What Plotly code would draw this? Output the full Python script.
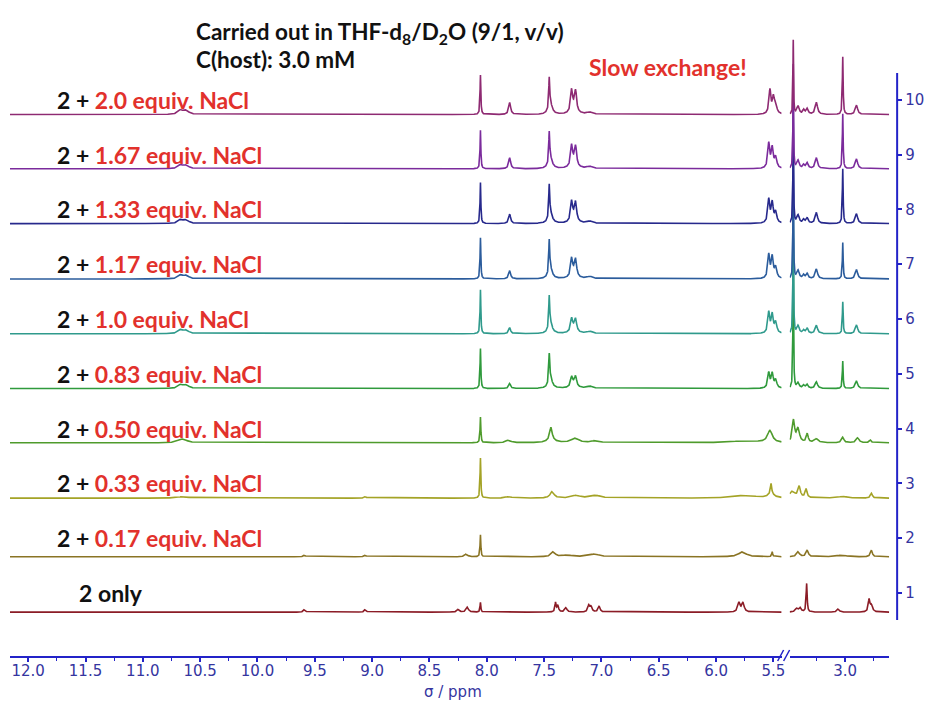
import numpy as np
import plotly.graph_objects as go

# ---------------- data ----------------
# stack index (right axis) of each spectrum, bottom -> top
stack_ticks = [1, 2, 3, 4, 5, 6, 7, 8, 9, 10]
equiv_labels = ["", "0.17", "0.33", "0.50", "0.83", "1.0", "1.17", "1.33", "1.67", "2.0"]
baselines = [0.65, 1.66, 2.73, 3.74, 4.73, 5.73, 6.73, 7.74, 8.74, 9.73]
colors = ["#8b1c26", "#8a7424", "#a4a326", "#4f9b2c", "#2f9a3c",
          "#2f9a8c", "#2b5c9c", "#27298c", "#7b2b9c", "#8e2a72"]

# peaks: (ppm, height in stack units, half width in ppm)
peaks_left = [
    [(9.59, 0.05, 0.01), (9.06, 0.05, 0.01), (8.25, 0.05, 0.012), (8.17, 0.09, 0.012),
     (8.055, 0.18, 0.004), (7.40, 0.17, 0.006), (7.38, 0.12, 0.008), (7.31, 0.08, 0.012),
     (7.11, 0.12, 0.01), (7.09, 0.09, 0.01), (7.02, 0.11, 0.01),
     (5.80, 0.17, 0.012), (5.765, 0.17, 0.012)],
    [(9.59, 0.03, 0.01), (9.06, 0.03, 0.01), (8.18, 0.05, 0.015), (8.055, 0.40, 0.004),
     (7.42, 0.09, 0.02), (7.30, 0.03, 0.05), (7.06, 0.05, 0.05),
     (5.77, 0.09, 0.04), (5.51, 0.09, 0.005)],
    [(10.65, 0.03, 0.05), (9.06, 0.03, 0.01), (8.055, 0.73, 0.004), (7.81, 0.03, 0.03),
     (7.43, 0.12, 0.02), (7.22, 0.05, 0.04), (7.05, 0.05, 0.05), (5.75, 0.05, 0.12),
     (5.52, 0.18, 0.006), (5.52, 0.08, 0.03)],
    [(10.65, 0.07, 0.04), (8.055, 0.47, 0.004), (7.81, 0.05, 0.025), (7.44, 0.22, 0.012),
     (7.44, 0.06, 0.04), (7.23, 0.08, 0.04), (7.05, 0.04, 0.04), (5.75, 0.04, 0.12),
     (5.53, 0.22, 0.025)],
    [(10.67, 0.07, 0.025), (10.62, 0.06, 0.025), (8.055, 0.73, 0.004), (7.80, 0.09, 0.01),
     (7.455, 0.50, 0.005), (7.445, 0.18, 0.02), (7.26, 0.16, 0.01), (7.225, 0.16, 0.01),
     (7.24, 0.08, 0.03), (7.10, 0.04, 0.03),
     (5.54, 0.28, 0.01), (5.51, 0.26, 0.01), (5.48, 0.15, 0.012)],
    [(10.67, 0.07, 0.025), (10.62, 0.06, 0.025), (8.055, 0.80, 0.004), (7.80, 0.11, 0.01),
     (7.455, 0.56, 0.005), (7.445, 0.18, 0.02), (7.26, 0.22, 0.01), (7.225, 0.20, 0.01),
     (7.24, 0.09, 0.03), (7.10, 0.04, 0.03),
     (5.54, 0.38, 0.01), (5.51, 0.33, 0.01), (5.48, 0.20, 0.012)],
    [(10.67, 0.07, 0.025), (10.62, 0.06, 0.025), (8.055, 0.75, 0.004), (7.80, 0.15, 0.01),
     (7.455, 0.58, 0.005), (7.445, 0.18, 0.02), (7.26, 0.31, 0.01), (7.225, 0.28, 0.01),
     (7.24, 0.10, 0.03), (7.10, 0.04, 0.03),
     (5.54, 0.43, 0.01), (5.51, 0.38, 0.01), (5.48, 0.20, 0.012)],
    [(10.67, 0.07, 0.025), (10.62, 0.06, 0.025), (8.055, 0.75, 0.004), (7.80, 0.17, 0.01),
     (7.455, 0.58, 0.005), (7.445, 0.18, 0.02), (7.26, 0.34, 0.01), (7.225, 0.31, 0.01),
     (7.24, 0.10, 0.03), (7.10, 0.04, 0.03),
     (5.54, 0.43, 0.01), (5.51, 0.36, 0.01), (5.48, 0.20, 0.012)],
    [(10.67, 0.07, 0.025), (10.62, 0.06, 0.025), (8.055, 0.70, 0.004), (7.80, 0.20, 0.01),
     (7.455, 0.54, 0.005), (7.445, 0.18, 0.02), (7.26, 0.36, 0.01), (7.225, 0.33, 0.01),
     (7.24, 0.10, 0.03), (7.10, 0.04, 0.03),
     (5.54, 0.45, 0.01), (5.51, 0.36, 0.01), (5.48, 0.20, 0.012)],
    [(10.67, 0.08, 0.025), (10.62, 0.07, 0.025), (8.055, 0.72, 0.004), (7.80, 0.22, 0.01),
     (7.455, 0.54, 0.005), (7.445, 0.18, 0.02), (7.26, 0.38, 0.01), (7.225, 0.35, 0.01),
     (7.24, 0.10, 0.03), (7.10, 0.04, 0.03),
     (5.53, 0.44, 0.01), (5.50, 0.28, 0.01), (5.48, 0.18, 0.012)],
]
peaks_right = [
    [(3.42, 0.07, 0.015), (3.39, 0.07, 0.01), (3.335, 0.52, 0.005), (3.06, 0.06, 0.012),
     (2.79, 0.22, 0.008), (2.77, 0.12, 0.012)],
    [(3.41, 0.09, 0.015), (3.33, 0.12, 0.012), (3.03, 0.03, 0.05), (2.77, 0.12, 0.01)],
    [(3.46, 0.12, 0.03), (3.40, 0.20, 0.012), (3.34, 0.16, 0.01), (3.02, 0.03, 0.05),
     (2.77, 0.09, 0.01)],
    [(3.45, 0.40, 0.012), (3.41, 0.25, 0.015), (3.33, 0.16, 0.01), (3.25, 0.07, 0.02),
     (3.02, 0.10, 0.012), (2.89, 0.09, 0.015), (2.78, 0.05, 0.01)],
    [(3.452, 2.74, 0.003), (3.41, 0.10, 0.012), (3.36, 0.06, 0.01), (3.33, 0.07, 0.01),
     (3.25, 0.12, 0.012), (3.02, 0.50, 0.004), (2.90, 0.14, 0.012)],
    [(3.452, 2.55, 0.003), (3.41, 0.14, 0.012), (3.36, 0.06, 0.01), (3.33, 0.09, 0.01),
     (3.25, 0.15, 0.012), (3.02, 0.58, 0.004), (2.90, 0.16, 0.012)],
    [(3.452, 2.37, 0.003), (3.41, 0.15, 0.012), (3.36, 0.07, 0.01), (3.33, 0.09, 0.01),
     (3.25, 0.18, 0.012), (3.02, 0.66, 0.004), (2.90, 0.17, 0.012)],
    [(3.452, 2.20, 0.003), (3.41, 0.15, 0.012), (3.36, 0.07, 0.01), (3.33, 0.10, 0.01),
     (3.25, 0.20, 0.012), (3.02, 1.00, 0.004), (2.90, 0.18, 0.012)],
    [(3.452, 1.90, 0.003), (3.41, 0.15, 0.012), (3.36, 0.07, 0.01), (3.33, 0.10, 0.01),
     (3.25, 0.20, 0.012), (3.02, 1.00, 0.004), (2.90, 0.18, 0.012)],
    [(3.452, 1.35, 0.003), (3.41, 0.15, 0.012), (3.36, 0.08, 0.01), (3.33, 0.10, 0.01),
     (3.25, 0.22, 0.012), (3.02, 1.05, 0.004), (2.90, 0.17, 0.012)],
]

# axis ranges (ppm), broken axis
left_range = [12.159, 5.428]
right_range = [3.484, 2.615]

# ---------------- build figure ----------------
W, H = 932, 703
AX = "#2323c8"
TXT = "#35359f"
RED = "#e2312c"


def lorentz_sum(x, peaks):
    y = np.zeros_like(x)
    for p, h, w in peaks:
        y += h * w * w / ((x - p) ** 2 + w * w)
    return y


xl = np.arange(left_range[1], left_range[0], 0.001)
xr = np.arange(right_range[1], right_range[0], 0.001)

fig = go.Figure()
for i in range(len(stack_ticks)):
    fig.add_trace(go.Scatter(x=xl, y=baselines[i] + lorentz_sum(xl, peaks_left[i]),
                             mode="lines", line=dict(color=colors[i], width=1.6),
                             xaxis="x", yaxis="y", showlegend=False, hoverinfo="skip"))
    fig.add_trace(go.Scatter(x=xr, y=baselines[i] + lorentz_sum(xr, peaks_right[i]),
                             mode="lines", line=dict(color=colors[i], width=1.6),
                             xaxis="x2", yaxis="y", showlegend=False, hoverinfo="skip"))

px = lambda v: v / W
tickfont = dict(family="DejaVu Sans", size=15, color=TXT)
xcommon = dict(showgrid=False, zeroline=False, showline=True, linecolor=AX, linewidth=2,
               ticks="outside", ticklen=4, tickwidth=1.5, tickcolor=AX,
               dtick=0.5, tick0=0, tickformat=".1f", tickfont=tickfont,
               ticklabelstandoff=-4,
               minor=dict(dtick=0.25, ticks="outside", ticklen=3, tickcolor=AX, tickwidth=1),
               anchor="y", fixedrange=True)

plot_h = 656
fig.update_layout(
    width=W, height=H,
    margin=dict(l=0, r=0, t=0, b=H - plot_h),
    paper_bgcolor="white", plot_bgcolor="white",
    xaxis=dict(domain=[px(10), px(785)], range=left_range, **xcommon),
    xaxis2=dict(domain=[px(793), px(893)], range=right_range, **xcommon),
    yaxis=dict(range=[-0.15, 11.82], domain=[0, 1], showgrid=False, zeroline=False,
               showline=False, anchor="free", position=px(901), side="right",
               tickvals=stack_ticks, ticks="outside", ticklen=4, tickwidth=1.5,
               tickcolor=AX, tickfont=dict(family="DejaVu Sans", size=15, color=TXT),
               fixedrange=True),
)

# right stack axis line
fig.add_shape(type="line", xref="paper", yref="y", x0=px(901), x1=px(901),
              y0=0.507, y1=10.49, line=dict(color=AX, width=2))
# axis break marks
for xa in (781, 787):
    fig.add_shape(type="line", xref="paper", yref="paper",
                  x0=px(xa), x1=px(xa + 6), y0=-5 / plot_h, y1=6 / plot_h,
                  line=dict(color=AX, width=1.5))

LBL = dict(family="Lato", size=23, color="#111111")
ann = []
for i, t in enumerate(stack_ticks):
    if equiv_labels[i]:
        txt = f"<b>2 + <span style='color:{RED}'>{equiv_labels[i]} equiv. NaCl</span></b>"
        xx = 55
    else:
        txt = "<b>2 only</b>"
        xx = 77
    ann.append(dict(text=txt, x=px(xx), y=t, xref="paper", yref="y", xanchor="left",
                    yanchor="middle", showarrow=False, font=LBL))
ann.append(dict(text="<b>Carried out in THF-d<sub>8</sub>/D<sub>2</sub>O (9/1, v/v)</b>",
                x=px(195), y=11.22, xref="paper", yref="y", xanchor="left", yanchor="middle",
                showarrow=False, font=dict(family="Lato", size=22.5, color="#111111")))
ann.append(dict(text="<b>C(host): 3.0 mM</b>", x=px(195), y=10.73, xref="paper", yref="y",
                xanchor="left", yanchor="middle", showarrow=False,
                font=dict(family="Lato", size=22.5, color="#111111")))
ann.append(dict(text="<b>Slow exchange!</b>", x=px(590), y=10.6, xref="paper", yref="y",
                xanchor="left", yanchor="middle", showarrow=False,
                font=dict(family="Lato", size=23, color=RED)))
ann.append(dict(text="σ / ppm", x=px(455), y=-36 / plot_h, xref="paper", yref="paper",
                xanchor="center", yanchor="middle", showarrow=False,
                font=dict(family="DejaVu Sans", size=15, color=TXT)))
fig.update_layout(annotations=ann)

fig.write_html("out.html", config={"displayModeBar": False},
               post_script="document.body.style.margin='0px';"
               "document.body.style.overflow='hidden';")
